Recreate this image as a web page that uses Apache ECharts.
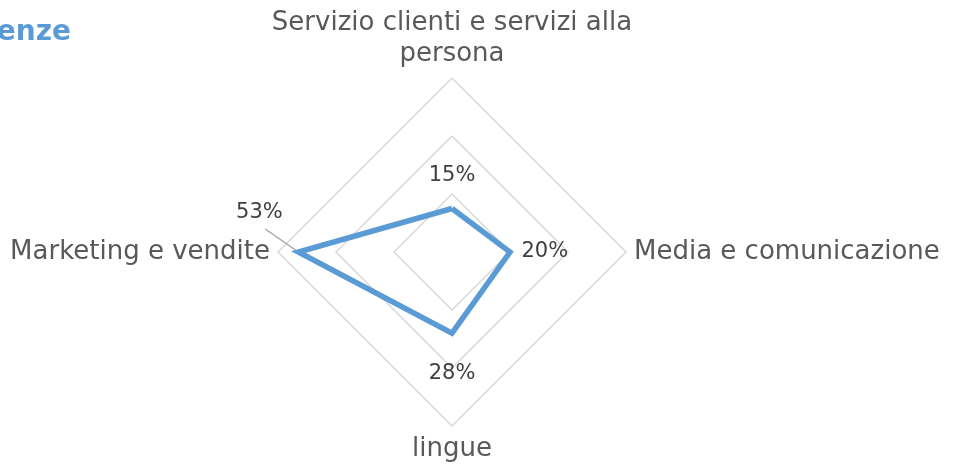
<!DOCTYPE html>
<html>
<head>
<meta charset="utf-8">
<script src="https://cdn.jsdelivr.net/npm/echarts@6/dist/echarts.min.js"></script>
<style>
  html, body { margin: 0; padding: 0; background: #fff; }
  #chart { width: 954px; height: 471px; }
</style>
</head>
<body>
<div id="chart"></div>
<script>
// dati
const titleText = 'Competenze'
const categories = ['Servizio clienti e servizi alla\npersona', 'Marketing e vendite', 'lingue', 'Media e comunicazione']
const values = [0.15, 0.53, 0.28, 0.20]
const axisMax = 0.6

const FONT = '"DejaVu Sans"'
const blue = '#5B9BD5'

const chart = echarts.init(document.getElementById('chart'))

// posizione etichetta per ogni vertice
const labelPos = [
  { position: 'top', distance: 22 },
  { position: 'left', distance: 12, offset: [-3, -39] },
  { position: 'bottom', distance: 29 },
  { position: 'right', distance: 11 }
]

const fmt = v => Math.round(v * 100) + '%'

// una serie invisibile per ogni etichetta, così ognuna ha la sua posizione
const labelSeries = labelPos.map((lp, i) => ({
  type: 'radar',
  silent: true,
  symbol: 'circle',
  symbolSize: 1,
  itemStyle: { color: 'rgba(0,0,0,0)' },
  lineStyle: { opacity: 0 },
  label: {
    show: true,
    position: lp.position,
    distance: lp.distance,
    offset: lp.offset || [0, 0],
    color: '#404040',
    fontFamily: FONT,
    fontSize: 21,
    formatter: p => (p.value === values[i] ? fmt(p.value) : '')
  },
  data: [{ value: values }]
}))

chart.setOption({
  animation: false,
  radar: {
    center: [452, 252],
    radius: 174,
    shape: 'polygon',
    splitNumber: 3,
    nameGap: 8,
    indicator: categories.map(c => ({ name: c, min: 0, max: axisMax })),
    axisName: {
      color: '#595959',
      fontFamily: FONT,
      fontSize: 26,
      lineHeight: 31
    },
    axisLine: { show: false },
    axisTick: { show: false },
    axisLabel: { show: false },
    splitArea: { show: false },
    splitLine: { lineStyle: { color: '#D9D9D9', width: 1.5 } }
  },
  series: [{
    type: 'radar',
    silent: true,
    symbol: 'none',
    lineStyle: { color: blue, width: 5.5, join: 'miter' },
    data: [{ value: values }]
  }].concat(labelSeries)
})

// titolo tagliato a sinistra + linea guida per l'etichetta 53%
const radarCs = chart.getModel().getComponent('radar').coordinateSystem
const pt = radarCs.dataToPoint(values[1], 1)
chart.setOption({
  graphic: [{
    type: 'text',
    silent: true,
    style: {
      x: 71, y: 33,
      text: titleText,
      align: 'right',
      verticalAlign: 'middle',
      fill: blue,
      font: 'bold 28px ' + FONT
    }
  }, {
    type: 'line',
    silent: true,
    shape: { x1: pt[0] - 33, y1: pt[1] - 23, x2: pt[0], y2: pt[1] },
    style: { stroke: '#A6A6A6', lineWidth: 1.5 }
  }]
})
</script>
</body>
</html>
